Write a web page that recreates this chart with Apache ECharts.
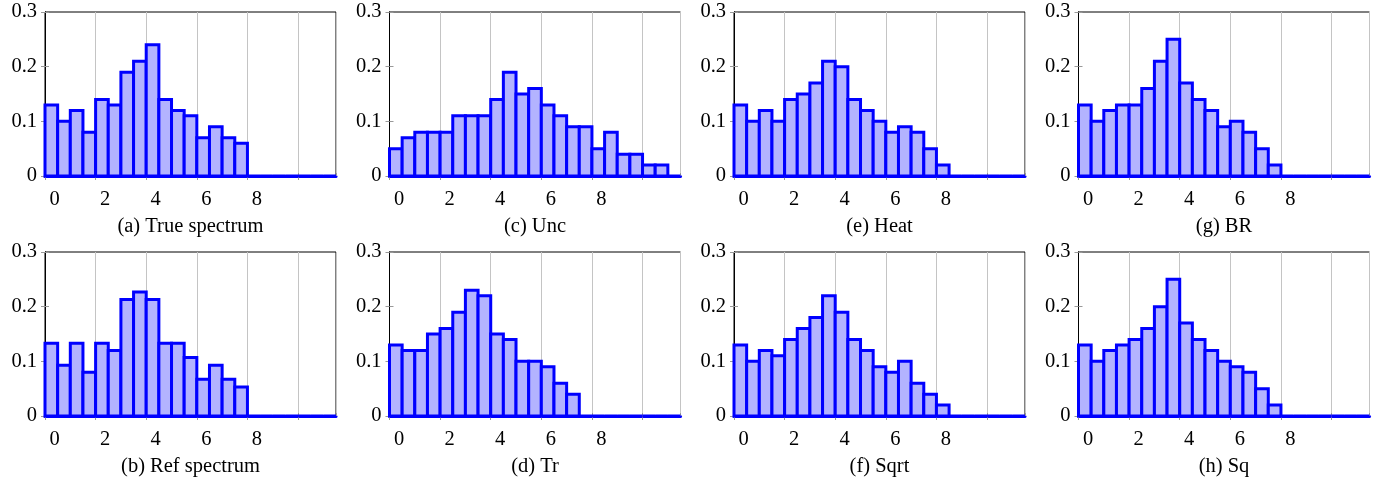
<!DOCTYPE html>
<html><head><meta charset="utf-8">
<script src="https://cdn.jsdelivr.net/npm/echarts@6/dist/echarts.min.js"></script>
<style>html,body{margin:0;padding:0;background:#fff}#c{width:1388px;height:481px}</style>
</head><body><div id="c"></div>
<script>
// ---- data ----
const binWidth = 0.5;
const xTickLabels = ['0', '2', '4', '6', '8'];
const yTicks = [0, 0.1, 0.2, 0.3];
const captions = ['(a) True spectrum', '(c) Unc', '(e) Heat', '(g) BR',
                  '(b) Ref spectrum', '(d) Tr', '(f) Sqrt', '(h) Sq'];
const trueSpectrum = [0.13,0.10,0.12,0.08,0.14,0.13,0.19,0.21,0.24,0.14,0.12,0.11,0.07,0.09,0.07,0.06,0,0,0,0,0,0,0];
const unc          = [0.05,0.07,0.08,0.08,0.08,0.11,0.11,0.11,0.14,0.19,0.15,0.16,0.13,0.11,0.09,0.09,0.05,0.08,0.04,0.04,0.02,0.02,0];
const heat         = [0.13,0.10,0.12,0.10,0.14,0.15,0.17,0.21,0.20,0.14,0.12,0.10,0.08,0.09,0.08,0.05,0.02,0,0,0,0,0,0];
const br           = [0.13,0.10,0.12,0.13,0.13,0.16,0.21,0.25,0.17,0.14,0.12,0.09,0.10,0.08,0.05,0.02,0,0,0,0,0,0,0];
const refSpectrum  = [0.133,0.093,0.133,0.08,0.133,0.12,0.213,0.227,0.213,0.133,0.133,0.107,0.067,0.093,0.067,0.053,0,0,0,0,0,0,0];
const tr           = [0.13,0.12,0.12,0.15,0.16,0.19,0.23,0.22,0.15,0.14,0.10,0.10,0.09,0.06,0.04,0,0,0,0,0,0,0,0];
const sqrt         = [0.13,0.10,0.12,0.11,0.14,0.16,0.18,0.22,0.19,0.14,0.12,0.09,0.08,0.10,0.06,0.04,0.02,0,0,0,0,0,0];
const sq           = [0.13,0.10,0.12,0.13,0.14,0.16,0.20,0.25,0.17,0.14,0.12,0.10,0.09,0.08,0.05,0.02,0,0,0,0,0,0,0];
const panelSeries = [trueSpectrum, unc, heat, br, refSpectrum, tr, sqrt, sq];

// ---- layout ----
const colLeft = [45, 389.5, 734, 1078.5];
const rowTop = [12, 252];
const plotW = 291, plotH = 164;
const FONT = 'Liberation Serif';
const FS = 20.5;

const grids = [], xAxes = [], yAxes = [], series = [], titles = [];
panelSeries.forEach((vals, i) => {
  const col = i % 4, row = Math.floor(i / 4);
  const xMax = vals.length * binWidth;
  grids.push({left: colLeft[col], top: rowTop[row], width: plotW, height: plotH,
    show: true, borderColor: '#000', borderWidth: 1, backgroundColor: 'transparent'});
  xAxes.push({
    gridIndex: i, type: 'value', position: 'bottom', min: 0, max: xMax, interval: 2,
    axisLine: {show: true, onZero: false, lineStyle: {color: '#0000ff', width: 3}},
    axisTick: {show: true, inside: false, length: 4, lineStyle: {color: '#999'}},
    axisLabel: {
      color: '#000', fontFamily: FONT, fontSize: FS, margin: 13,
      padding: [0, 0, 0, 19], showMaxLabel: false,
      formatter: v => { const k = Math.round(v / 2); return (Math.abs(v - k * 2) < 1e-6 && k < xTickLabels.length) ? xTickLabels[k] : ''; }
    },
    splitLine: {show: true, lineStyle: {color: '#c4c4c4', width: 1}}
  });
  xAxes.push({
    gridIndex: i, type: 'value', position: 'top', min: 0, max: xMax, interval: 2,
    axisLine: {show: false}, axisTick: {show: true, inside: false, length: 3, lineStyle: {color: '#999'}},
    axisLabel: {show: false}, splitLine: {show: false}
  });
  yAxes.push({
    gridIndex: i, type: 'value', position: 'left', min: 0, max: 0.3, interval: 0.1,
    axisLine: {show: true, lineStyle: {color: '#000', width: 1}},
    axisTick: {show: true, inside: true, length: 4, lineStyle: {color: '#999'}},
    axisLabel: {color: '#000', fontFamily: FONT, fontSize: FS, margin: 8,
      formatter: v => { const k = Math.round(v * 10); return String(yTicks[k]); }},
    splitLine: {show: false}
  });
  yAxes.push({
    gridIndex: i, type: 'value', position: 'right', min: 0, max: 0.3, interval: 0.1,
    axisLine: {show: true, lineStyle: {color: '#000', width: 1}},
    axisTick: {show: true, inside: true, length: 4, lineStyle: {color: '#999'}},
    axisLabel: {show: false}, splitLine: {show: false}
  });
  series.push({
    type: 'custom', xAxisIndex: 2 * i, yAxisIndex: 2 * i, z: 5,
    data: vals.map((v, k) => [k * binWidth, (k + 1) * binWidth, v]),
    encode: {x: [0, 1], y: 2},
    renderItem: (params, api) => {
      const p0 = api.coord([api.value(0), api.value(2)]);
      const p1 = api.coord([api.value(1), 0]);
      return {type: 'rect',
        shape: {x: p0[0], y: p0[1], width: p1[0] - p0[0], height: p1[1] - p0[1]},
        style: {fill: '#b3b3ff', stroke: '#0000ff', lineWidth: 3}};
    }
  });
  titles.push({
    text: captions[i], left: colLeft[col] + plotW / 2, top: rowTop[row] + 204, textAlign: 'center', padding: 0,
    textStyle: {fontFamily: FONT, fontSize: FS, fontWeight: 'normal', color: '#000'}
  });
});

const chart = echarts.init(document.getElementById('c'), null, {renderer: 'canvas'});
chart.setOption({animation: false, backgroundColor: '#fff', title: titles, grid: grids, xAxis: xAxes, yAxis: yAxes, series: series});
</script></body></html>
